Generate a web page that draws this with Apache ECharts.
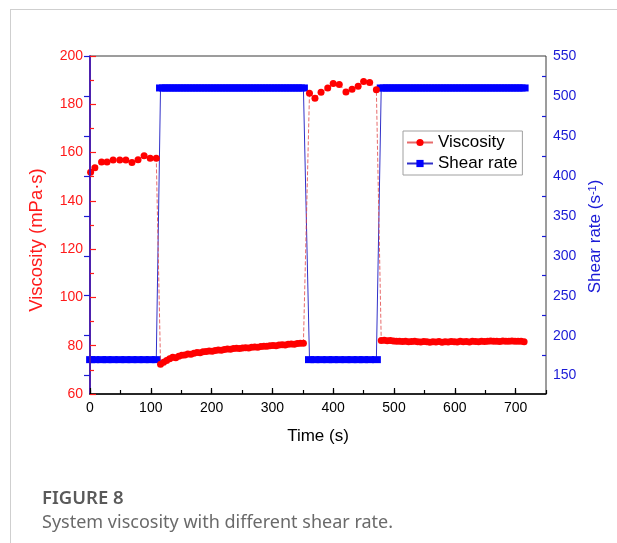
<!DOCTYPE html>
<html>
<head>
<meta charset="utf-8">
<script src="https://cdn.jsdelivr.net/npm/echarts@6/dist/echarts.min.js"></script>
<style>
  html, body { margin: 0; padding: 0; background: #fff; width: 617px; height: 543px; overflow: hidden; }
  #frame { position: absolute; left: 10px; top: 9px; width: 640px; height: 600px;
           border-top: 1px solid #cfcfcf; border-left: 1px solid #cfcfcf; }
  #chart { position: absolute; left: 0; top: 0; width: 617px; height: 543px; }
  .fig-no { position: absolute; left: 42px; top: 484px; font-family: 'Noto Sans', sans-serif;
            font-weight: 600; font-size: 18.5px; color: #5a5a5a; }
  .fig-text { position: absolute; left: 42px; top: 509px; font-family: 'Noto Sans', sans-serif;
              font-size: 18px; color: #6a6a6a; }
</style>
</head>
<body>
<div id="frame"></div>
<div id="chart"></div>
<div class="fig-no">FIGURE 8</div>
<div class="fig-text">System viscosity with different shear rate.</div>
<script>
// Stage 1: low shear rate
const time1 = [1, 8, 19, 28, 38, 49, 59, 69, 79, 89, 99, 109];
const viscosity1 = [151.8, 153.7, 156.1, 156.1, 156.9, 156.9, 156.9, 155.9, 157.0, 158.7, 157.6, 157.6];
const shearRate1 = [170, 170, 170, 170, 170, 170, 170, 170, 170, 170, 170, 170];

// Stage 2: high shear rate
const time2 = [116, 121, 126, 131, 136, 141, 146, 151, 156, 161, 166, 171, 176, 181, 186, 191,
               196, 201, 206, 211, 216, 221, 226, 231, 236, 241, 246, 251, 256, 261, 266, 271,
               276, 281, 286, 291, 296, 301, 306, 311, 316, 321, 326, 331, 336, 341, 346, 351];
const viscosity2 = [72.3, 73.2, 73.9, 74.6, 75.2, 75.0, 75.6, 76.1, 76.2, 76.6, 76.5, 76.9, 77.2, 77.1, 77.5, 77.6,
                    77.8, 77.7, 78.0, 78.2, 78.1, 78.4, 78.6, 78.5, 78.8, 78.9, 78.8, 79.1, 79.2, 79.1, 79.4, 79.5,
                    79.4, 79.7, 79.8, 79.8, 80.0, 80.1, 80.0, 80.3, 80.4, 80.3, 80.6, 80.7, 80.6, 80.9, 81.0, 81.0];
const shearRate2 = [510, 510, 510, 510, 510, 510, 510, 510, 510, 510, 510, 510, 510, 510, 510, 510,
                    510, 510, 510, 510, 510, 510, 510, 510, 510, 510, 510, 510, 510, 510, 510, 510,
                    510, 510, 510, 510, 510, 510, 510, 510, 510, 510, 510, 510, 510, 510, 510, 510];

// Stage 3: back to low shear rate
const time3 = [361, 370, 380, 391, 400, 410, 421, 431, 441, 450, 460, 471];
const viscosity3 = [184.6, 182.5, 185.0, 186.7, 188.6, 188.2, 185.1, 186.2, 187.5, 189.4, 189.0, 186.0];
const shearRate3 = [170, 170, 170, 170, 170, 170, 170, 170, 170, 170, 170, 170];

// Stage 4: back to high shear rate
const time4 = [479, 484, 489, 494, 499, 504, 509, 514, 519, 524, 529, 534, 539, 544, 549, 554,
               559, 564, 569, 574, 579, 584, 589, 594, 599, 604, 609, 614, 619, 624, 629, 634,
               639, 644, 649, 654, 659, 664, 669, 674, 679, 684, 689, 694, 699, 704, 709, 714];
const viscosity4 = [82.2, 82.3, 82.1, 82.2, 82.0, 81.8, 81.9, 81.7, 81.8, 81.6, 81.7, 81.9, 81.6, 81.5, 81.7, 81.6,
                    81.4, 81.6, 81.5, 81.7, 81.4, 81.6, 81.5, 81.7, 81.6, 81.5, 81.8, 81.6, 81.7, 81.5, 81.8, 81.7,
                    81.6, 81.9, 81.7, 81.8, 82.0, 81.8, 81.9, 81.7, 82.0, 81.9, 81.8, 82.0, 81.9, 81.8, 81.9, 81.6];
const shearRate4 = [510, 510, 510, 510, 510, 510, 510, 510, 510, 510, 510, 510, 510, 510, 510, 510,
                    510, 510, 510, 510, 510, 510, 510, 510, 510, 510, 510, 510, 510, 510, 510, 510,
                    510, 510, 510, 510, 510, 510, 510, 510, 510, 510, 510, 510, 510, 510, 510, 510];

// Axis ticks
const timeTicks = [0, 100, 200, 300, 400, 500, 600, 700];
const shearTicks = [150, 200, 250, 300, 350, 400, 450, 500, 550];
const shearMinorTicks = [175, 225, 275, 325, 375, 425, 475, 525];

const times = [time1, time2, time3, time4];
const viscosities = [viscosity1, viscosity2, viscosity3, viscosity4];
const shearRates = [shearRate1, shearRate2, shearRate3, shearRate4];

function zipStages(xs, ys) {
  const out = [];
  xs.forEach((stage, i) => stage.forEach((t, j) => out.push([t, ys[i][j]])));
  return out;
}

const FONT = "'Liberation Sans', Arial, sans-serif";
const RED = '#ff1a1a';
const BLUE = '#1a1ad6';

const chart = echarts.init(document.getElementById('chart'), null, { renderer: 'canvas' });
chart.setOption({
  animation: false,
  textStyle: { fontFamily: FONT },
  grid: { left: 90, right: 71, top: 56, bottom: 149, show: true, borderColor: '#3a3a3a', borderWidth: 1 },
  legend: {
    orient: 'vertical', left: 403, top: 131,
    padding: [3, 5, 3, 3], itemGap: 4, itemWidth: 26, itemHeight: 9,
    borderColor: '#a0a0a0', borderWidth: 1,
    textStyle: { fontSize: 17, color: '#000', fontFamily: FONT },
    lineStyle: { type: 'solid' },
    data: ['Viscosity', 'Shear rate']
  },
  xAxis: [{
    type: 'value', min: 0, max: 750, interval: 100, position: 'bottom', z: 5,
    name: 'Time (s)', nameLocation: 'middle', nameGap: 34,
    nameTextStyle: { fontSize: 17, color: '#000', fontFamily: FONT },
    axisLine: { lineStyle: { color: '#000', width: 1.5 } },
    axisTick: { inside: true, length: 6, lineStyle: { color: '#000', width: 1.2 }, customValues: timeTicks },
    axisLabel: { color: '#000', fontSize: 14, margin: 7, fontFamily: FONT, customValues: timeTicks },
    splitLine: { show: false }
  }, {
    // minor ticks every 50 s
    type: 'value', min: 0, max: 750, interval: 50, position: 'bottom',
    axisLine: { show: false },
    axisTick: { inside: true, length: 4, lineStyle: { color: '#000', width: 1.2 } },
    axisLabel: { show: false },
    splitLine: { show: false }
  }],
  yAxis: [{
    type: 'value', min: 60, max: 200, interval: 20, position: 'left', z: 5,
    name: 'Viscosity (mPa·s)', nameLocation: 'middle', nameGap: 44,
    nameTextStyle: { fontSize: 18.5, color: RED, fontFamily: FONT, padding: [0, 30, 0, 0] },
    axisLine: { show: true, lineStyle: { color: RED, width: 1.5 } },
    axisTick: { inside: true, length: 6, lineStyle: { color: RED, width: 1.2 } },
    minorTick: { show: true, splitNumber: 2, length: 4, lineStyle: { color: RED, width: 1.2 } },
    axisLabel: { color: RED, fontSize: 14, margin: 7, fontFamily: FONT },
    splitLine: { show: false }
  }, {
    type: 'value', min: 127, max: 550, position: 'right', z: 5,
    name: 'Shear rate (s{sup|-1})', nameLocation: 'middle', nameGap: 38, nameRotate: 90,
    nameTextStyle: { fontSize: 17, color: BLUE, fontFamily: FONT, padding: [0, 23, 0, 0],
      rich: { sup: { fontSize: 11, color: BLUE, verticalAlign: 'top', fontFamily: FONT } } },
    axisLine: { show: true, lineStyle: { color: BLUE, width: 1.5 } },
    axisTick: { inside: true, length: 6, lineStyle: { color: BLUE, width: 1.2 }, customValues: shearTicks },
    axisLabel: { color: BLUE, fontSize: 14, margin: 7, fontFamily: FONT, customValues: shearTicks },
    splitLine: { show: false }
  }, {
    // minor ticks every 25 s⁻¹
    type: 'value', min: 127, max: 550, position: 'right',
    axisLine: { show: false },
    axisTick: { inside: true, length: 4, lineStyle: { color: BLUE, width: 1.2 }, customValues: shearMinorTicks },
    axisLabel: { show: false, customValues: shearMinorTicks },
    splitLine: { show: false }
  }],
  series: [{
    name: 'Shear rate', type: 'line', xAxisIndex: 0, yAxisIndex: 1,
    data: zipStages(times, shearRates),
    symbol: 'rect', symbolSize: [9, 7],
    itemStyle: { color: '#0000ff', borderWidth: 0 },
    lineStyle: { color: '#3030c8', width: 1 },
    z: 2
  }, {
    name: 'Viscosity', type: 'line', xAxisIndex: 0, yAxisIndex: 0,
    data: zipStages(times, viscosities),
    symbol: 'circle', symbolSize: 7,
    itemStyle: { color: '#ff0000', borderWidth: 0 },
    lineStyle: { color: 'rgba(225,70,70,0.8)', width: 1, type: 'dashed' },
    z: 3
  }]
});
</script>
</body>
</html>
